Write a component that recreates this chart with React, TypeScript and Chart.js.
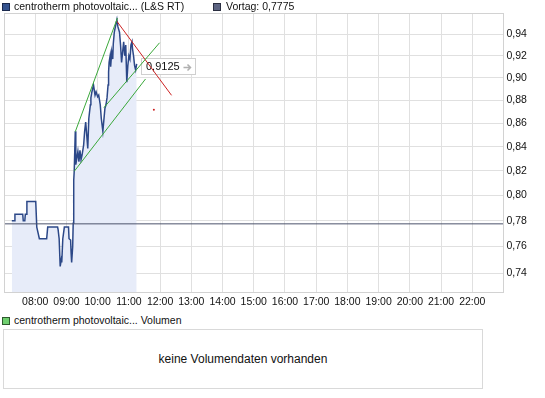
import React, { useEffect, useRef } from 'react';
import { Chart, registerables } from 'chart.js';

Chart.register(...registerables);

// ---- data ----
const priceTimes = [
  '07:15', '07:21', '07:21', '07:36', '07:37', '07:40', '07:41', '07:44', '07:44', '08:01',
  '08:03', '08:08', '08:22', '08:24', '08:43', '08:44', '08:46', '08:48', '08:50', '08:51',
  '08:53', '08:56', '09:04', '09:05', '09:08', '09:09', '09:10', '09:12', '09:13', '09:14',
  '09:15', '09:17', '09:18', '09:22', '09:24', '09:26', '09:28', '09:30', '09:33', '09:35',
  '09:37', '09:39', '09:41', '09:43', '09:46', '09:47', '09:49', '09:52', '09:55', '09:57',
  '10:00', '10:02', '10:05', '10:07', '10:10', '10:11', '10:14', '10:16', '10:18', '10:20',
  '10:21', '10:22', '10:24', '10:25', '10:27', '10:29', '10:30', '10:32', '10:34', '10:37',
  '10:39', '10:42', '10:44', '10:46', '10:48', '10:50', '10:52', '10:54', '10:56', '10:58',
  '11:00', '11:02', '11:04', '11:06', '11:07', '11:09', '11:11', '11:13', '11:15',
];
const priceValues = [
  0.780, 0.780, 0.785, 0.785, 0.780, 0.780, 0.785, 0.785, 0.795, 0.795,
  0.775, 0.766, 0.766, 0.775, 0.775, 0.773, 0.766, 0.745, 0.750, 0.748,
  0.766, 0.775, 0.775, 0.766, 0.765, 0.755, 0.748, 0.760, 0.778, 0.812,
  0.820, 0.853, 0.825, 0.836, 0.8275, 0.837, 0.829, 0.833, 0.841, 0.853,
  0.861, 0.850, 0.8385, 0.864, 0.876, 0.882, 0.8875, 0.8935, 0.8845, 0.8875,
  0.883, 0.8845, 0.876, 0.864, 0.853, 0.858, 0.873, 0.876, 0.882, 0.8935,
  0.905, 0.914, 0.920, 0.910, 0.9235, 0.917, 0.931, 0.942, 0.947, 0.954,
  0.947, 0.942, 0.930, 0.914, 0.9235, 0.933, 0.920, 0.930, 0.896, 0.911,
  0.920, 0.917, 0.930, 0.933, 0.9265, 0.920, 0.911, 0.907, 0.9125,
];
const previousClose = 0.7775;
const lastPrice = 0.9125;

const upperChannelTimes = ['09:17', '10:38'];
const upperChannelValues = [0.8527, 0.9555];
const middleChannelTimes = ['10:12', '11:59'];
const middleChannelValues = [0.8734, 0.9321];
const lowerChannelTimes = ['09:15', '11:32'];
const lowerChannelValues = [0.8195, 0.8989];
const resistanceTimes = ['10:37', '12:22'];
const resistanceValues = [0.9523, 0.8843];
const markerTimes = ['11:48'];
const markerValues = [0.8717];

const xTickHours = [7, 8, 9, 10, 11, 12, 13, 14, 15, 16, 17, 18, 19, 20, 21, 22, 23];
const yTickValues = [0.74, 0.76, 0.78, 0.80, 0.82, 0.84, 0.86, 0.88, 0.90, 0.92, 0.94];
const yMin = 0.7262;
const yMax = 0.9603;

const seriesName = 'centrotherm photovoltaic... (L&S RT)';
const previousLabel = 'Vortag: 0,7775';
const volumeName = 'centrotherm photovoltaic... Volumen';
const volumeMessage = 'keine Volumendaten vorhanden';

// ---- helpers ----
const toMin = (s: string) => {
  const [h, m] = s.split(':').map(Number);
  return h * 60 + m;
};
const pts = (times: string[], values: number[]) =>
  times.map((t, i) => ({ x: toMin(t), y: values[i] }));
const fmt = (v: number) => v.toFixed(2).replace('.', ',');

const FONT = '"Liberation Sans", Arial, sans-serif';
const GRID = '#e0e0e0';
const FRAME = '#d2d2d2';

const framePlugin = {
  id: 'framePlugin',
  beforeDatasetsDraw(chart: any) {
    const { ctx, chartArea, scales } = chart;
    // last-price label box
    const px = scales.x.getPixelForValue(toMin(priceTimes[priceTimes.length - 1])) + 4;
    const py = scales.y.getPixelForValue(lastPrice) + 2;
    const w = 54;
    const h = 16;
    const bx = Math.round(px) + 0.5;
    const by = Math.round(py - h / 2) + 0.5;
    ctx.save();
    ctx.fillStyle = '#ffffff';
    ctx.strokeStyle = '#cfcfcf';
    ctx.lineWidth = 1;
    ctx.fillRect(bx, by, w, h);
    ctx.strokeRect(bx, by, w, h);
    ctx.fillStyle = '#111111';
    ctx.font = '11px ' + FONT;
    ctx.textBaseline = 'middle';
    ctx.textAlign = 'left';
    ctx.fillText(fmt4(lastPrice), bx + 4.5, by + h / 2 + 0.5);
    // small grey arrow
    const ax = bx + 42;
    const ay = Math.round(by + h / 2) + 0.5;
    ctx.strokeStyle = '#b0b0b0';
    ctx.lineWidth = 1.5;
    ctx.beginPath();
    ctx.moveTo(ax, ay);
    ctx.lineTo(ax + 7, ay);
    ctx.moveTo(ax + 4, ay - 3);
    ctx.lineTo(ax + 7, ay);
    ctx.lineTo(ax + 4, ay + 3);
    ctx.stroke();
    ctx.restore();
  },
  afterDraw(chart: any) {
    const { ctx, chartArea } = chart;
    ctx.save();
    ctx.strokeStyle = FRAME;
    ctx.lineWidth = 1;
    ctx.strokeRect(
      Math.round(chartArea.left) + 0.5,
      Math.round(chartArea.top) + 0.5,
      Math.round(chartArea.right) - Math.round(chartArea.left) - 1,
      Math.round(chartArea.bottom) - Math.round(chartArea.top),
    );
    ctx.restore();
  },
};

function fmt4(v: number) {
  return v.toFixed(4).replace('.', ',');
}

export default function App() {
  const canvasRef = useRef<HTMLCanvasElement | null>(null);

  useEffect(() => {
    document.body.style.margin = '0';
    const canvas = canvasRef.current;
    if (!canvas) return;
    const thin = (data: any, color: string) => ({
      data,
      borderColor: color,
      borderWidth: 1,
      pointRadius: 0,
      fill: false,
      tension: 0,
      order: 0,
    });
    const chart = new Chart(canvas, {
      type: 'line',
      data: {
        datasets: [
          thin([{ x: 420, y: previousClose }, { x: 1380, y: previousClose }], '#4c536c'),
          thin(pts(upperChannelTimes, upperChannelValues), '#3aa83a'),
          thin(pts(middleChannelTimes, middleChannelValues), '#3aa83a'),
          thin(pts(lowerChannelTimes, lowerChannelValues), '#3aa83a'),
          thin(pts(resistanceTimes, resistanceValues), '#cc2222'),
          {
            data: pts(markerTimes, markerValues),
            showLine: false,
            pointRadius: 1,
            pointBorderWidth: 0,
            pointBackgroundColor: '#cc2222',
            order: 0,
          },
          {
            data: pts(priceTimes, priceValues),
            borderColor: '#2c4888',
            borderWidth: 1.5,
            pointRadius: 0,
            tension: 0,
            fill: 'start',
            backgroundColor: '#e7ecf9',
            order: 10,
          },
        ],
      } as any,
      options: {
        animation: false,
        responsive: false,
        devicePixelRatio: 1,
        layout: { padding: { left: 3, top: 13, right: 0, bottom: 0 } },
        plugins: { legend: { display: false }, tooltip: { enabled: false } },
        scales: {
          x: {
            type: 'linear',
            min: 420,
            max: 1380,
            afterBuildTicks: (s: any) => {
              s.ticks = xTickHours.map((h) => ({ value: h * 60 }));
            },
            afterFit: (s: any) => {
              s.height = 20;
            },
            ticks: {
              autoSkip: false,
              maxRotation: 0,
              minRotation: 0,
              padding: 4,
              color: '#111111',
              font: { family: FONT, size: 10.5 },
              callback: (v: any) => {
                const h = Math.round(Number(v) / 60);
                if (h === 7 || h === 23) return '';
                return (h < 10 ? '0' : '') + h + ':00';
              },
            },
            grid: { color: GRID, drawTicks: false },
            border: { display: false },
          },
          y: {
            type: 'logarithmic',
            position: 'right',
            min: yMin,
            max: yMax,
            afterBuildTicks: (s: any) => {
              s.ticks = yTickValues.map((v) => ({ value: v }));
            },
            afterFit: (s: any) => {
              s.width = 41.5;
            },
            ticks: {
              padding: 3,
              color: '#111111',
              font: { family: FONT, size: 10.5 },
              callback: (v: any) => fmt(Number(v)),
            },
            grid: { color: GRID, drawTicks: false },
            border: { display: false },
          },
        },
      } as any,
      plugins: [framePlugin],
    });
    return () => chart.destroy();
  }, []);

  const text: React.CSSProperties = {
    position: 'absolute',
    fontFamily: FONT,
    fontSize: '10.5px',
    color: '#111',
    whiteSpace: 'nowrap',
    lineHeight: '13px',
  };
  const square = (left: number, top: number, bg: string, border: string): React.CSSProperties => ({
    position: 'absolute',
    left,
    top,
    width: 6,
    height: 6,
    background: bg,
    border: '1px solid ' + border,
  });

  return (
    <div style={{ position: 'relative', width: 545, height: 398, background: '#fff', overflow: 'hidden' }}>
      <canvas ref={canvasRef} width={545} height={312} style={{ position: 'absolute', left: 0, top: 0 }} />
      <div style={square(2, 3, '#35538f', '#1b2a4e')} />
      <div style={{ ...text, left: 14, top: 0 }}>{seriesName}</div>
      <div style={square(213, 3, '#5d6482', '#2a2e40')} />
      <div style={{ ...text, left: 226, top: 0 }}>{previousLabel}</div>
      <div style={square(2, 317, '#6fcf6f', '#2e5a2e')} />
      <div style={{ ...text, left: 14, top: 314 }}>{volumeName}</div>
      <div
        style={{
          position: 'absolute',
          left: 3,
          top: 329,
          width: 478,
          height: 58,
          border: '1px solid #d9d9d9',
          display: 'flex',
          alignItems: 'center',
          justifyContent: 'center',
          fontFamily: FONT,
          fontSize: '12px',
          color: '#111',
        }}
      >
        {volumeMessage}
      </div>
    </div>
  );
}
